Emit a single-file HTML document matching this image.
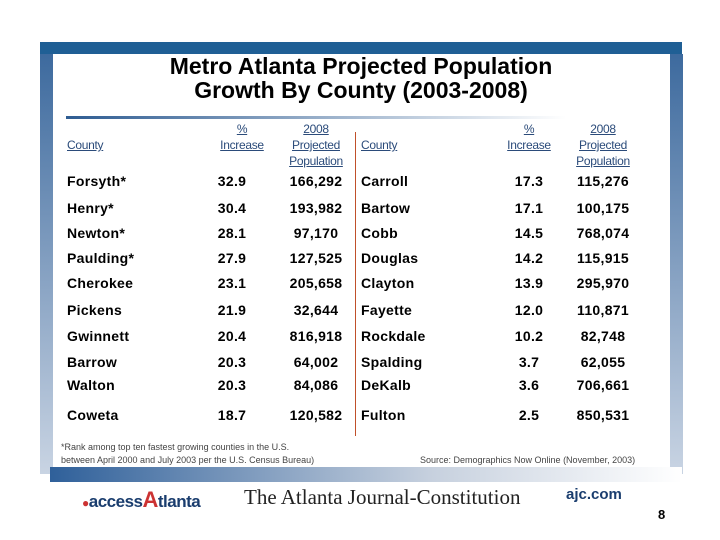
<!DOCTYPE html>
<html><head><meta charset="utf-8"><style>
body{margin:0;width:720px;height:540px;background:#fff;position:relative;overflow:hidden;font-family:"Liberation Sans",sans-serif}
.abs{position:absolute}
.row{position:absolute;font-size:14px;color:#000;font-weight:bold;letter-spacing:0.3px}
.h{position:absolute;font-size:12px;color:#2b4b7a;text-decoration:underline;text-align:center;line-height:16px;letter-spacing:-0.3px}
</style></head><body>
<div class="abs" style="left:40px;top:42px;width:642px;height:12px;background:#1f5f95"></div>
<div class="abs" style="left:40px;top:54px;width:13px;height:420px;background:linear-gradient(#3d6a9e,#c9d4e3)"></div>
<div class="abs" style="left:670px;top:54px;width:13px;height:420px;background:linear-gradient(#3d6a9e,#c9d4e3)"></div>
<div class="abs" style="left:50px;top:467px;width:632px;height:15px;background:linear-gradient(90deg,#2f609a,#c6d0de 60%,#fff)"></div>
<div class="abs" style="left:52px;top:54px;width:618px;text-align:center;font-size:23px;font-weight:bold;line-height:24px">Metro Atlanta Projected Population<br>Growth By County (2003-2008)</div>
<div class="abs" style="left:66px;top:116px;width:500px;height:3px;background:linear-gradient(90deg,#2e5c92,#fff)"></div>
<div class="abs" style="left:355px;top:132px;width:1px;height:304px;background:#c0502a"></div>
<div class="h" style="left:67px;top:137px;text-align:left">County</div>
<div class="h" style="left:207px;top:121px;width:70px">%<br>Increase</div>
<div class="h" style="left:276px;top:121px;width:80px">2008<br>Projected<br>Population</div>
<div class="h" style="left:361px;top:137px;text-align:left">County</div>
<div class="h" style="left:494px;top:121px;width:70px">%<br>Increase</div>
<div class="h" style="left:563px;top:121px;width:80px">2008<br>Projected<br>Population</div>
<div id="rows"></div>
<div class="abs" style="left:61px;top:441px;font-size:9px;color:#444;line-height:13px">*Rank among top ten fastest growing counties in the U.S.<br>between April 2000 and July 2003 per the U.S. Census Bureau)</div>
<div class="abs" style="left:420px;top:455px;font-size:9px;color:#444">Source: Demographics Now Online (November, 2003)</div>
<div class="abs" style="left:82px;top:487px;font-size:17px;font-weight:bold;color:#1a3d6e;letter-spacing:-0.5px"><span style="color:#c33;font-size:12px">●</span>access<span style="color:#c33;font-size:22px">A</span>tlanta</div>
<div class="abs" style="left:244px;top:485px;font-family:'Liberation Serif',serif;font-size:21px;color:#222">The Atlanta Journal-Constitution</div>
<div class="abs" style="left:566px;top:486px;font-size:15px;font-weight:bold;color:#1a3d6e">ajc.com</div>
<div class="abs" style="left:658px;top:507px;font-size:13px;font-weight:bold">8</div>
<script>
const counties1=["Forsyth*","Henry*","Newton*","Paulding*","Cherokee","Pickens","Gwinnett","Barrow","Walton","Coweta"];
const pct1=["32.9","30.4","28.1","27.9","23.1","21.9","20.4","20.3","20.3","18.7"];
const pop1=["166,292","193,982","97,170","127,525","205,658","32,644","816,918","64,002","84,086","120,582"];
const counties2=["Carroll","Bartow","Cobb","Douglas","Clayton","Fayette","Rockdale","Spalding","DeKalb","Fulton"];
const pct2=["17.3","17.1","14.5","14.2","13.9","12.0","10.2","3.7","3.6","2.5"];
const pop2=["115,276","100,175","768,074","115,915","295,970","110,871","82,748","62,055","706,661","850,531"];
const ys=[182,209,234,259,284,311,337,363,386,416];
const host=document.getElementById('rows');
function cell(txt,x,y,w,align,name){
  const d=document.createElement('div');
  d.className='row';
  d.style.left=x+'px';d.style.top=(y-9)+'px';d.style.width=w+'px';d.style.textAlign=align;
  d.textContent=txt;
  
  
  host.appendChild(d);
}
for(let i=0;i<counties1.length;i++){
  const y=ys[i];
  cell(counties1[i],67,y,130,'left','county-name');
  cell(pct1[i],202,y,60,'center','pct-increase');
  cell(pop1[i],276,y,80,'center','projected-population');
  cell(counties2[i],361,y,130,'left','county-name');
  cell(pct2[i],499,y,60,'center','pct-increase');
  cell(pop2[i],563,y,80,'center','projected-population');
}
</script>
</body></html>
